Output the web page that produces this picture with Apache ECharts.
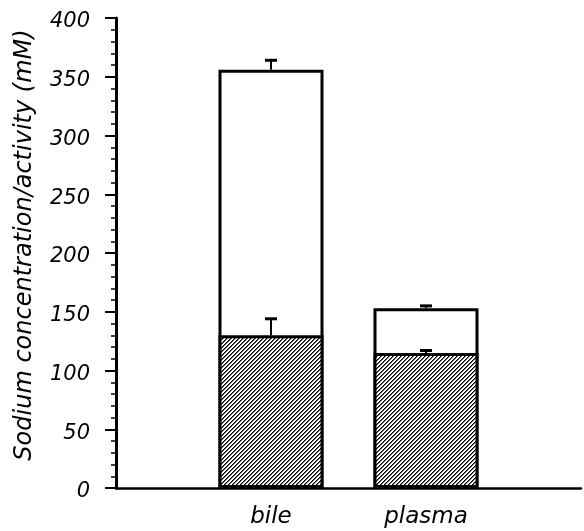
<!DOCTYPE html>
<html>
<head>
<meta charset="utf-8">
<script src="https://cdn.jsdelivr.net/npm/echarts@6/dist/echarts.min.js"></script>
<style>
  html, body { margin: 0; padding: 0; background: #fff; }
  #chart { width: 584px; height: 531px; }
</style>
</head>
<body>
<div id="chart"></div>
<script>
// Daten
var categories = ['bile', 'plasma'];
var activity = [130, 115];        // schraffierter Teil
var concentration = [356, 153];   // Gesamthöhe des Balkens
var activityErr = [144, 117];     // oberes Ende Fehlerbalken (Aktivität)
var concentrationErr = [364, 155];
var yTicks = [0, 50, 100, 150, 200, 250, 300, 350, 400];

// Schraffur als Muster (Linien von links unten nach rechts oben)
function makeHatch() {
	var c = document.createElement('canvas');
	c.width = 4; c.height = 4;
	var ctx = c.getContext('2d');
	var shades = ['#000', '#666', '#fff', '#fff'];
	for (var x = 0; x < 4; x++) {
		for (var y = 0; y < 4; y++) {
			ctx.fillStyle = shades[(x + y) % 4];
			ctx.fillRect(x, y, 1, 1);
		}
	}
	return c;
}

var xs = categories.map(function (c, i) { return i + 1; });

function errItem(params, api) {
	var top = api.coord([api.value(0), api.value(2)]);
	var base = api.coord([api.value(0), api.value(1)]);
	return {
		type: 'group',
		children: [
			{ type: 'line', shape: { x1: top[0], y1: base[1], x2: top[0], y2: top[1] },
				style: { stroke: '#000', lineWidth: 2 } },
			{ type: 'line', shape: { x1: top[0] - 6, y1: top[1], x2: top[0] + 6, y2: top[1] },
				style: { stroke: '#000', lineWidth: 3 } }
		]
	};
}

var chart = echarts.init(document.getElementById('chart'), null, {renderer: 'canvas'});
var font = 'DejaVu Sans, sans-serif';

chart.setOption({
	animation: false,
	grid: { left: 116, right: 0, top: 18, bottom: 43 },
	xAxis: {
		type: 'value', min: 0, max: 3, interval: 1,
		axisLine: { show: true, lineStyle: { color: '#000', width: 2.5 } },
		axisTick: { show: false },
		splitLine: { show: false },
		axisLabel: {
			margin: 18,
			fontFamily: font, fontStyle: 'italic', fontSize: 23, color: '#000',
			formatter: function (v) { return categories[v - 1] || ''; }
		}
	},
	yAxis: {
		type: 'value', min: yTicks[0], max: yTicks[yTicks.length - 1], interval: 50,
		name: 'Sodium concentration/activity (mM)',
		nameLocation: 'middle', nameGap: 79,
		nameTextStyle: { fontFamily: font, fontStyle: 'italic', fontSize: 24, color: '#000', padding: [0, 0, 0, 16] },
		axisLine: { show: true, lineStyle: { color: '#000', width: 3 } },
		axisTick: { show: true, length: 11, lineStyle: { color: '#000', width: 2 } },
		minorTick: { show: true, splitNumber: 5, length: 5, lineStyle: { color: '#000', width: 1.5 } },
		splitLine: { show: false },
		axisLabel: {
			margin: 26,
			formatter: function (v) { return '{t|' + v + '}'; },
			rich: {
				t: { fontFamily: font, fontStyle: 'italic', fontSize: 21, color: '#000', padding: [8, 0, 0, 0] }
			}
		}
	},
	series: [
		{
			type: 'bar', barWidth: 105, barGap: '-100%',
			data: xs.map(function (x, i) { return [x, concentration[i]]; }),
			itemStyle: { color: '#fff', borderColor: '#000', borderWidth: 3 }
		},
		{
			type: 'bar', barWidth: 105, barGap: '-100%',
			data: xs.map(function (x, i) { return [x, activity[i]]; }),
			itemStyle: { color: { image: makeHatch(), repeat: 'repeat' }, borderColor: '#000', borderWidth: 3 }
		},
		{
			type: 'custom', z: 5,
			renderItem: errItem,
			data: xs.map(function (x, i) { return [x, activity[i], activityErr[i]]; })
		},
		{
			type: 'custom', z: 5,
			renderItem: errItem,
			data: xs.map(function (x, i) { return [x, concentration[i], concentrationErr[i]]; })
		}
	]
});
</script>
</body>
</html>
